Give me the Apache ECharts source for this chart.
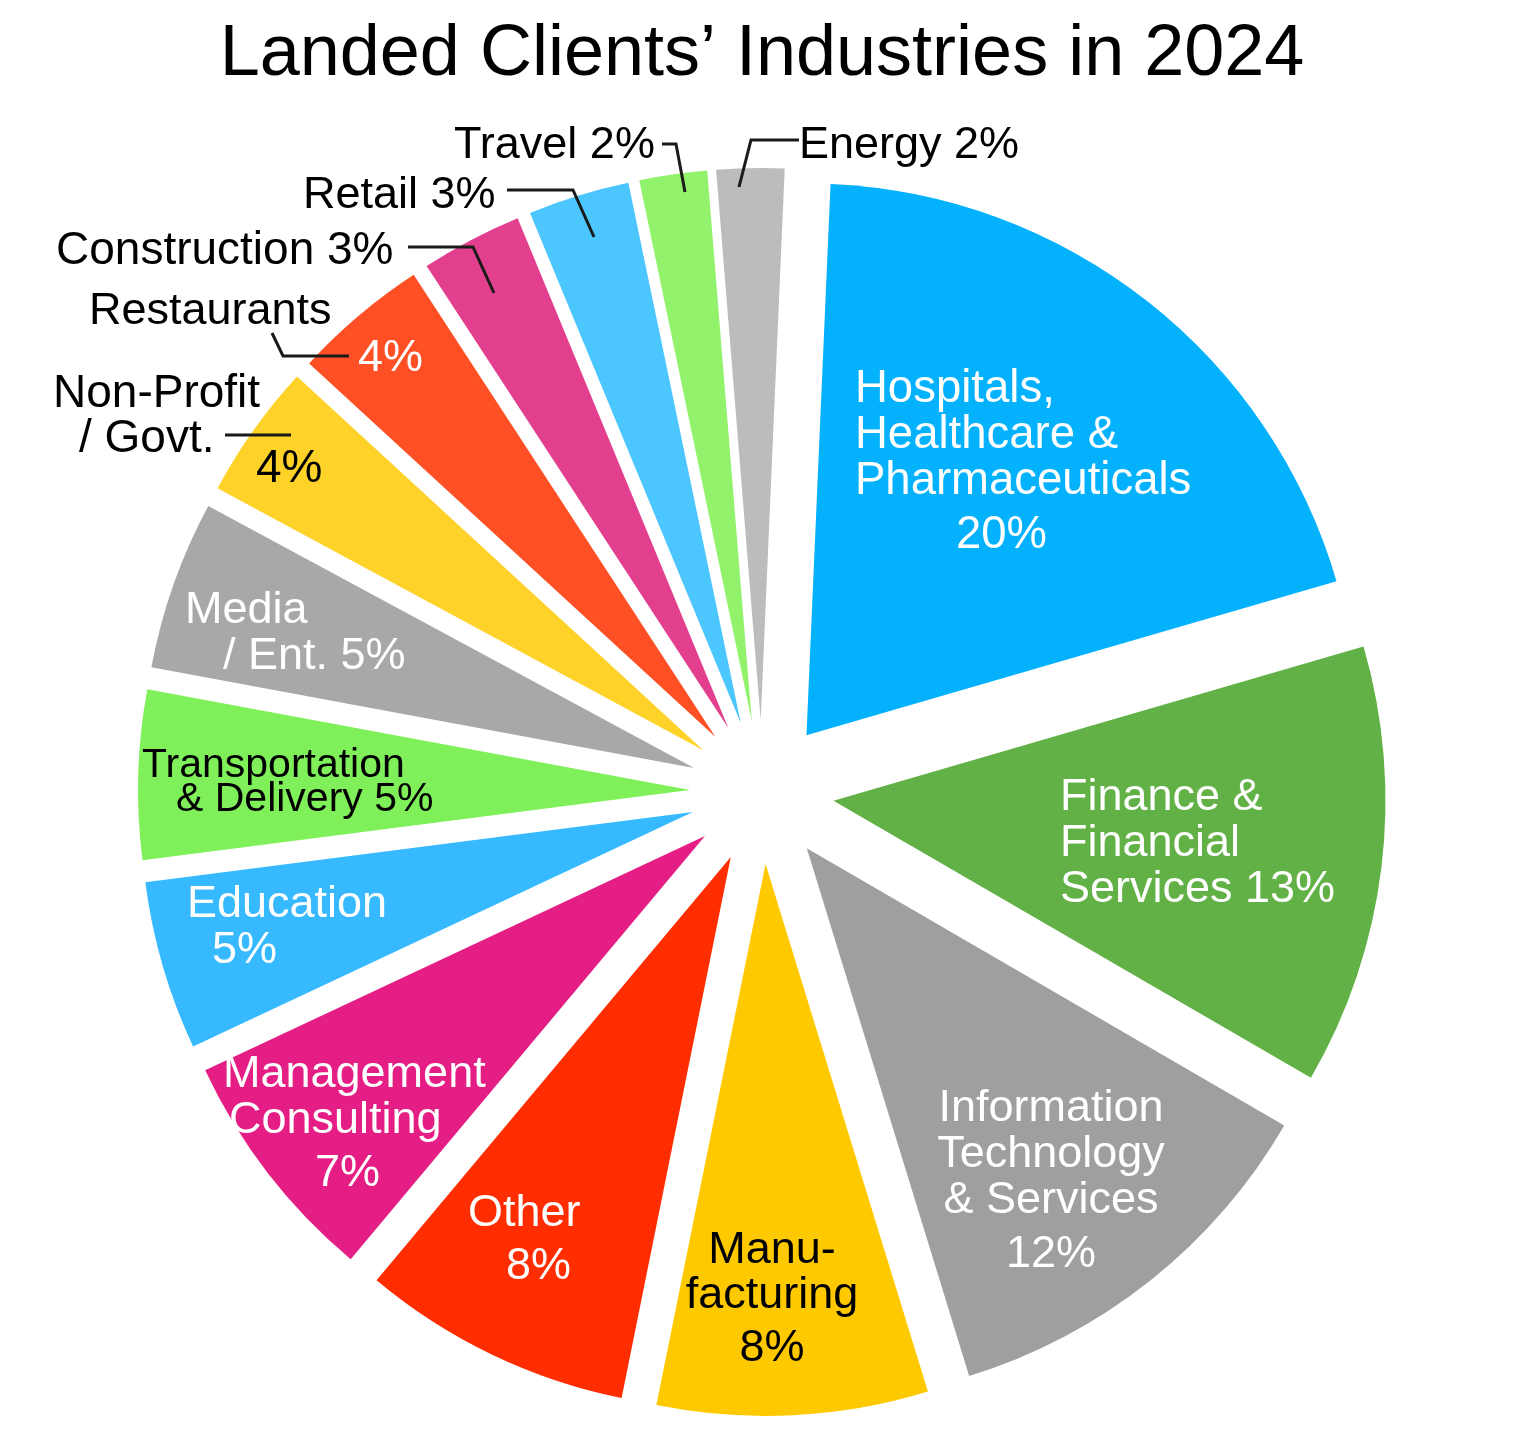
<!DOCTYPE html>
<html>
<head>
<meta charset="utf-8">
<script src="https://cdn.jsdelivr.net/npm/echarts@6/dist/echarts.min.js"></script>
<style>
  html, body { margin: 0; padding: 0; background: #fff; }
  #chart { width: 1524px; height: 1449px; }
</style>
</head>
<body>
<div id="chart"></div>
<script>
// industries, clockwise from 12 o'clock
const industries = [
    'Hospitals, Healthcare & Pharmaceuticals', 'Finance & Financial Services',
    'Information Technology & Services', 'Manufacturing', 'Other',
    'Management Consulting', 'Education', 'Transportation & Delivery',
    'Media / Ent.', 'Non-Profit / Govt.', 'Restaurants', 'Construction',
    'Retail', 'Travel', 'Energy'
];
const shares = [20, 13, 12, 8, 8, 7, 5, 5, 5, 4, 4, 3, 3, 2, 2];
// how the names are broken on the chart
const nameLines = [
    ['Hospitals,', 'Healthcare &', 'Pharmaceuticals'],
    ['Finance &', 'Financial', 'Services'],
    ['Information', 'Technology', '& Services'],
    ['Manu-', 'facturing'],
    ['Other'],
    ['Management', 'Consulting'],
    ['Education'],
    ['Transportation', '& Delivery'],
    ['Media', '/ Ent.'],
    ['Non-Profit', '/ Govt.'],
    ['Restaurants'],
    ['Construction'],
    ['Retail'],
    ['Travel'],
    ['Energy']
];
const sliceColors = [
    '#03B1FD', '#62B146', '#9F9F9F', '#FFC900', '#FF2D00',
    '#E41E85', '#36B9FF', '#80F05A', '#A8A8A8', '#FFD22A',
    '#FF5025', '#E33F8F', '#4CC6FF', '#92F26C', '#BCBCBC'
];

// label placement (top-left or top-center of each text block)
const labelSpots = [
    { x: 855, y: 366, align: 'left', fs: 45.5, lh: [46, 46, 46, 62], dx: [0, 0, 0, 101], color: '#fff', pctLine: true },
    { x: 1060, y: 775, align: 'left', lh: [46, 46, 46], color: '#fff', pctLine: false },
    { x: 1051, y: 1086, align: 'center', lh: [46, 46, 46, 61], color: '#fff', pctLine: true },
    { x: 772, y: 1228, align: 'center', lh: [45, 45, 62], color: '#000', pctLine: true },
    { x: 468, y: 1191, align: 'left', lh: [46, 59], dx: [0, 38], color: '#fff', pctLine: true },
    { x: 223, y: 1052, align: 'left', lh: [46, 46, 60], dx: [0, 6, 92], color: '#fff', pctLine: true },
    { x: 187, y: 882, align: 'left', lh: [46, 46], dx: [0, 25], color: '#fff', pctLine: true },
    { x: 142, y: 749, align: 'left', fs: 41, lh: [34, 34], dx: [0, 34], color: '#000', pctLine: false },
    { x: 185, y: 588, align: 'left', lh: [46, 46], dx: [0, 38], color: '#fff', pctLine: false },
    { x: 53, y: 372, align: 'left', fs: 46, lh: [45, 45, 15], dx: [0, 26, 203], color: '#000', pctLine: true,
      guide: [[291, 435], [258, 435], [225, 435]] },
    { x: 89, y: 289, align: 'left', lh: [46, 47], dx: [0, 269], color: ['#000', '#fff'], pctLine: true,
      guide: [[349, 356], [283, 356], [272, 333]] },
    { x: 56, y: 228, align: 'left', fs: 46, lh: [46], color: '#000', pctLine: false,
      guide: [[494, 293], [473, 247], [408, 247]] },
    { x: 303, y: 173, align: 'left', lh: [46], color: '#000', pctLine: false,
      guide: [[594, 237], [573, 190], [507, 190]] },
    { x: 454, y: 123, align: 'left', lh: [46], color: '#000', pctLine: false,
      guide: [[685, 192], [676, 144], [662, 144]] },
    { x: 799, y: 123, align: 'left', lh: [46], color: '#000', pctLine: false,
      guide: [[739, 187], [751, 140], [799, 140]] }
];

const FONT = 'Liberation Sans, Arial, Helvetica, sans-serif';
const pieCenter = [762, 792];
const pieRadius = 552;
const pieStart = 87.5;

function labelLinesOf(i) {
    const lines = nameLines[i].slice();
    const pct = shares[i] + '%';
    if (labelSpots[i].pctLine) lines.push(pct);
    else lines[lines.length - 1] += ' ' + pct;
    return lines;
}

// one rich style per line of each label
const rich = {};
labelSpots.forEach(function (spot, i) {
    labelLinesOf(i).forEach(function (t, j) {
        rich['s' + i + '_' + j] = {
            fontFamily: FONT,
            fontSize: spot.fs || 45,
            lineHeight: spot.lh[j],
            color: Array.isArray(spot.color) ? spot.color[j] : spot.color,
            padding: [0, 0, 0, spot.dx ? spot.dx[j] : 0]
        };
    });
});

const chart = echarts.init(document.getElementById('chart'));
chart.setOption({
    animation: false,
    backgroundColor: '#fff',
    title: {
        text: 'Landed Clients\u2019 Industries in 2024',
        left: 'center',
        top: 19,
        padding: 0,
        textStyle: { fontFamily: FONT, fontSize: 72, fontWeight: 'normal', color: '#000' }
    },
    series: [
        {
            // exploded slices
            type: 'pie',
            z: 2,
            center: pieCenter,
            radius: pieRadius,
            startAngle: pieStart,
            clockwise: true,
            selectedMode: 'multiple',
            selectedOffset: 72,
            silent: true,
            label: { show: false },
            labelLine: { show: false },
            emphasis: { disabled: true },
            itemStyle: { borderWidth: 0 },
            select: { itemStyle: { borderWidth: 0 } },
            data: industries.map(function (name, i) {
                return { name: name, value: shares[i], selected: true, itemStyle: { color: sliceColors[i] } };
            })
        },
        {
            // same pie, invisible, carrying the labels
            type: 'pie',
            z: 3,
            center: pieCenter,
            radius: pieRadius,
            startAngle: pieStart,
            clockwise: true,
            silent: true,
            avoidLabelOverlap: false,
            itemStyle: { color: 'rgba(0,0,0,0)', borderWidth: 0 },
            emphasis: { disabled: true },
            label: {
                show: true,
                overflow: 'none',
                fontFamily: FONT,
                formatter: function (p) {
                    return labelLinesOf(p.dataIndex).map(function (t, j) {
                        return '{s' + p.dataIndex + '_' + j + '|' + t + '}';
                    }).join('\n');
                },
                rich: rich
            },
            labelLine: {
                show: true,
                smooth: false,
                lineStyle: { color: '#1a1a1a', width: 3 }
            },
            labelLayout: function (p) {
                const spot = labelSpots[p.dataIndex];
                const out = { x: spot.x, y: spot.y, align: spot.align, verticalAlign: 'top' };
                if (spot.guide) out.labelLinePoints = spot.guide;
                return out;
            },
            data: industries.map(function (name, i) {
                const hasGuide = !!labelSpots[i].guide;
                return {
                    name: name,
                    value: shares[i],
                    label: { position: hasGuide ? 'outside' : 'inside' },
                    labelLine: { show: hasGuide }
                };
            })
        }
    ]
});
</script>
</body>
</html>
